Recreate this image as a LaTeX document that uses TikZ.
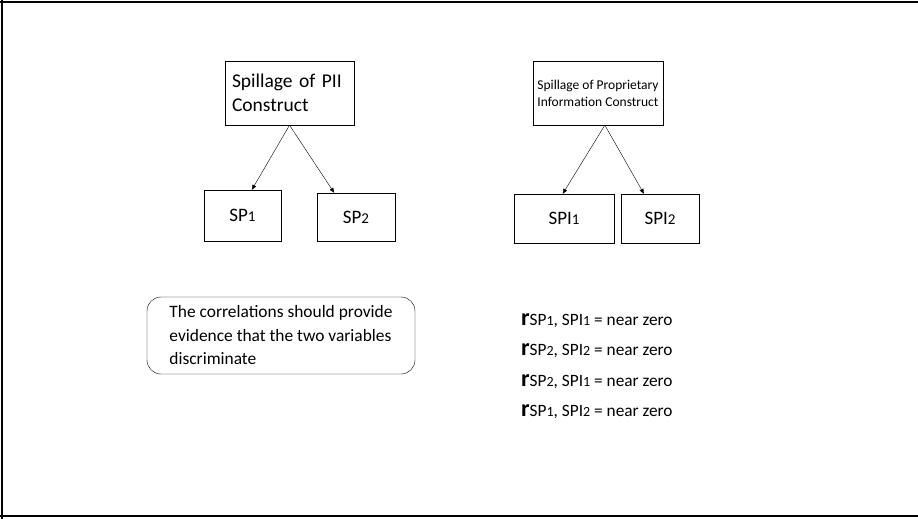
\documentclass[tikz,border=0pt]{standalone}
\usepackage{fontspec}
\setmainfont{Carlito}
\usetikzlibrary{arrows.meta}

\newcommand{\sn}[2][15]{{\fontsize{#1}{#1}\selectfont #2}}
\newcommand{\rr}{{\fontsize{24}{24}\selectfont\bfseries r}}

\begin{document}
\begin{tikzpicture}[x=1pt,y=-1pt,
  construct/.style = {draw, rectangle, align=left, minimum height=64, inner sep=7},
  item/.style = {draw, rectangle, minimum width=78, minimum height=50, inner sep=0, font=\fontsize{19}{19}\selectfont},
  note/.style = {draw, rounded corners=14, align=left, minimum width=268, minimum height=77, inner sep=0, font=\fontsize{17.4}{23.5}\selectfont},
  corr/.style = {anchor=base west, inner sep=0, font=\fontsize{17.3}{17.3}\selectfont},
  link/.style = {-{Triangle[length=5pt,width=4pt]}, thin}]
\useasboundingbox (0,0) rectangle (918,519);
% frame
\draw[line width=2] (0,2) -- (918,2);
\draw[line width=2] (2,0) -- (2,519);
\draw[line width=2] (0,516) -- (918,516);

% PII side
\node[construct, text width=115, font=\fontsize{19.5}{24}\selectfont] (pii) at (289.5,93) {Spillage of PII\\Construct};
\node[item, minimum width=77, minimum height=51] (sp1) at (242.5,215.5) {SP\sn{1}};
\node[item, minimum height=48] (sp2) at (356,217) {SP\sn{2}};
\draw[link] (pii.south) -- (sp1.70);
\draw[link] (pii.south) -- (sp2.132);

% proprietary side
\node[construct, minimum width=130, inner sep=3, font=\fontsize{13.5}{17}\selectfont] (prop) at (598,93) {Spillage of Proprietary\\Information Construct};
\node[item, minimum width=100, minimum height=49] (spi1) at (564,218.5) {SPI\sn{1}};
\node[item, minimum height=49] (spi2) at (660,218.5) {SPI\sn{2}};
\draw[link] (prop.-78) -- (spi1.93);
\draw[link] (prop.-78) -- (spi2.123);

% discriminant note
\node[note] (disc) at (281,335.5) {The correlations should provide\\evidence that the two variables\\discriminate};

% correlations
\node[corr] (r1) at (521,325) {\rr SP\sn[14]{1}, SPI\sn[14]{1} = near zero};
\node[corr] (r2) at (521,355) {\rr SP\sn[14]{2}, SPI\sn[14]{2} = near zero};
\node[corr] (r3) at (521,386) {\rr SP\sn[14]{2}, SPI\sn[14]{1} = near zero};
\node[corr] (r4) at (521,416) {\rr SP\sn[14]{1}, SPI\sn[14]{2} = near zero};
\end{tikzpicture}
\end{document}
